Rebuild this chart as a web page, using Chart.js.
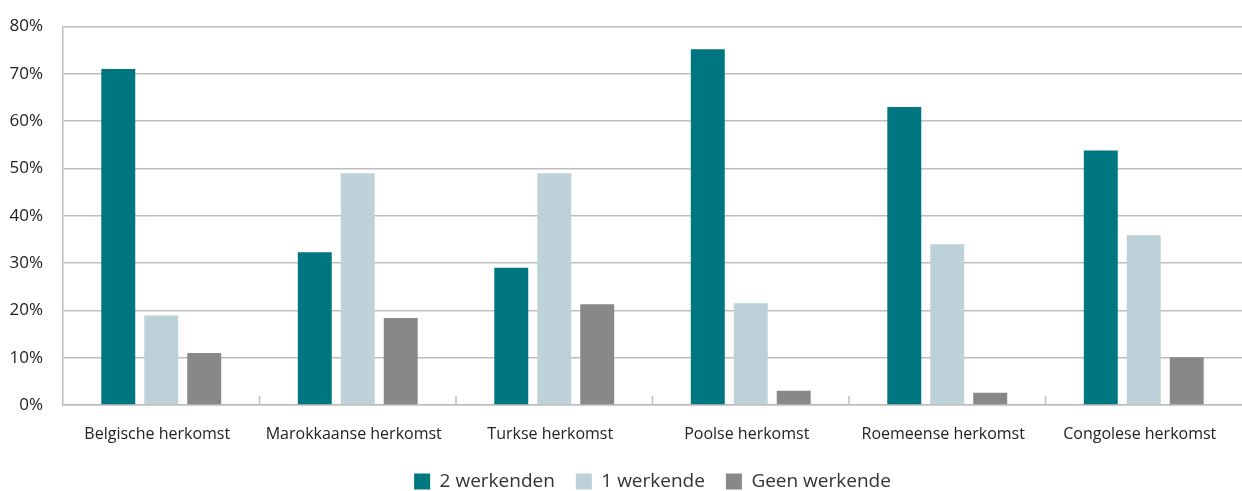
<!DOCTYPE html>
<html>
<head>
<meta charset="utf-8">
<script src="https://cdn.jsdelivr.net/npm/chart.js@4.4.0/dist/chart.umd.min.js"></script>
<style>
  html, body { margin: 0; padding: 0; background: #fff; }
  #wrap { width: 1242px; height: 491px; }
</style>
</head>
<body>
<div id="wrap"><canvas id="herkomstChart"></canvas></div>
<script>
// Data
const categories = ['Belgische herkomst', 'Marokkaanse herkomst', 'Turkse herkomst', 'Poolse herkomst', 'Roemeense herkomst', 'Congolese herkomst'];
const tweeWerkenden = [71, 32.3, 29, 75.2, 63, 53.8];
const eenWerkende = [18.9, 49, 49, 21.5, 34, 35.9];
const geenWerkende = [11, 18.4, 21.3, 3, 2.6, 10.1];
const yTicks = [0, 10, 20, 30, 40, 50, 60, 70, 80];

// short category ticks pointing up from the x axis
const categoryTicks = {
    id: 'categoryTicks',
    afterDraw(chart) {
        const x = chart.scales.x;
        const bottom = chart.chartArea.bottom;
        const c = chart.ctx;
        c.save();
        c.strokeStyle = '#bebebe';
        c.lineWidth = 1.5;
        for (let i = 1; i < categories.length; i++) {
            const px = (x.getPixelForValue(i - 1) + x.getPixelForValue(i)) / 2;
            c.beginPath();
            c.moveTo(px, bottom - 9);
            c.lineTo(px, bottom);
            c.stroke();
        }
        c.restore();
    }
};

const ctx = document.getElementById('herkomstChart').getContext('2d');
const chart = new Chart(ctx, {
    type: 'bar',
    data: {
        labels: categories,
        datasets: [
            { label: '2 werkenden', data: tweeWerkenden, backgroundColor: '#007681' },
            { label: '1 werkende', data: eenWerkende, backgroundColor: '#bdd1d8' },
            { label: 'Geen werkende', data: geenWerkende, backgroundColor: '#888888' }
        ]
    },
    options: {
        responsive: true,
        maintainAspectRatio: false,
        animation: false,
        devicePixelRatio: 1,
        categoryPercentage: 0.656,
        barPercentage: 0.79,
        layout: { padding: { top: 26.5, right: 0, bottom: -10, left: 0 } },
        plugins: {
            tooltip: { enabled: false },
            legend: {
                position: 'bottom',
                fullSize: false,
                labels: {
                    boxWidth: 16,
                    boxHeight: 16,
                    padding: 21,
                    color: '#333333',
                    font: { family: 'Open Sans', size: 19 }
                }
            }
        },
        scales: {
            y: {
                min: 0,
                max: 80,
                afterBuildTicks: (scale) => { scale.ticks = yTicks.map(v => ({ value: v })); },
                afterFit: (scale) => {
                    scale.width = 63;
                    scale.paddingTop = 0;
                    scale.paddingBottom = 0;
                },
                border: { color: '#bebebe', width: 1.5 },
                grid: { color: '#bebebe', lineWidth: 1.5, drawTicks: false },
                ticks: {
                    padding: 20,
                    color: '#222222',
                    font: { family: 'Open Sans', size: 17 },
                    callback: (v) => v + '%'
                }
            },
            x: {
                afterFit: (scale) => { scale.height = 46; },
                border: { color: '#bebebe', width: 1.5 },
                grid: { display: false },
                ticks: {
                    padding: 12,
                    labelOffset: -4,
                    color: '#222222',
                    maxRotation: 0,
                    font: { family: 'Open Sans', size: 16 }
                }
            }
        }
    },
    plugins: [categoryTicks]
});
</script>
</body>
</html>
